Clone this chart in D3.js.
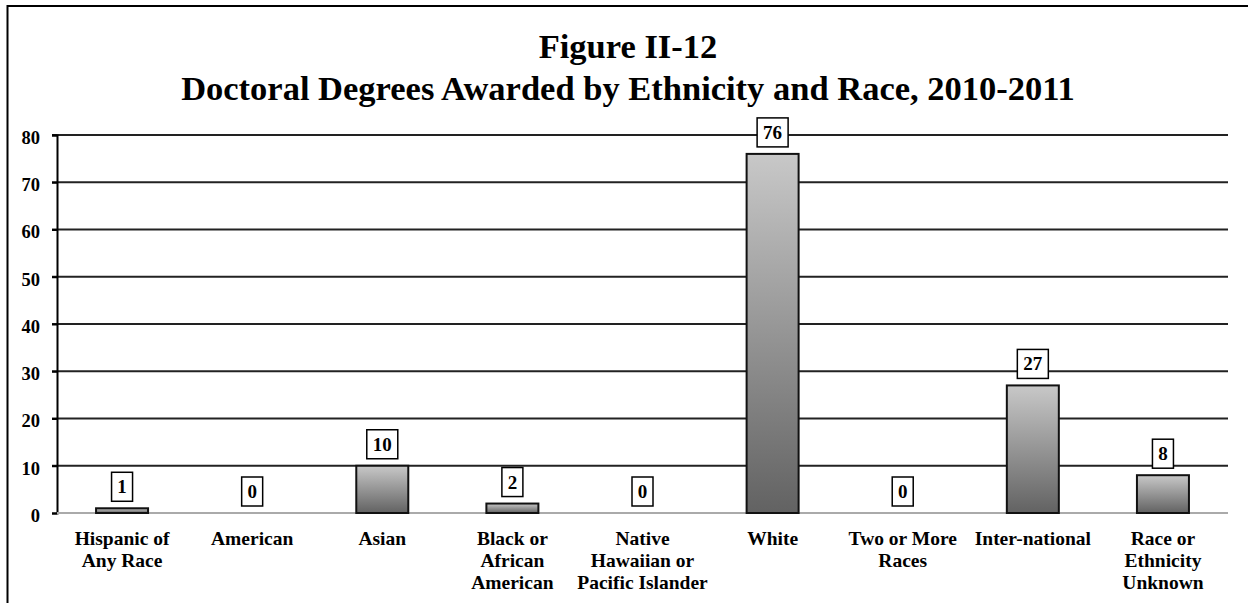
<!DOCTYPE html>
<html>
<head>
<meta charset="utf-8">
<script src="https://cdn.jsdelivr.net/npm/d3@7"></script>
<style>
  html, body { margin: 0; padding: 0; background: #fff; }
  svg { display: block; }
</style>
</head>
<body>
<svg id="chart" width="1248" height="603"></svg>
<script>
const categories = [
  ["Hispanic of", "Any Race"],
  ["American"],
  ["Asian"],
  ["Black or", "African", "American"],
  ["Native", "Hawaiian or", "Pacific Islander"],
  ["White"],
  ["Two or More", "Races"],
  ["Inter-national"],
  ["Race or", "Ethnicity", "Unknown"]
];
const values = [1, 0, 10, 2, 0, 76, 0, 27, 8];
const yTicks = [0, 10, 20, 30, 40, 50, 60, 70, 80];
const titleLines = ["Figure II-12", "Doctoral Degrees Awarded by Ethnicity and Race, 2010-2011"];

const FONT = "Liberation Serif";
const svg = d3.select("#chart");
const plotLeft = 57, plotRight = 1228, plotTop = 135, plotBottom = 513;

// outer frame
svg.append("rect").attr("x", 7.5).attr("y", 6).attr("width", 1300).attr("height", 700)
  .attr("fill", "none").attr("stroke", "#000").attr("stroke-width", 2);

// gradient
const defs = svg.append("defs");
const grad = defs.append("linearGradient").attr("id", "barGrad")
  .attr("x1", 0).attr("y1", 0).attr("x2", 0).attr("y2", 1);
grad.append("stop").attr("offset", "0%").attr("stop-color", "#c8c8c8");
grad.append("stop").attr("offset", "100%").attr("stop-color", "#626262");

// title
svg.append("g").selectAll("text").data(titleLines).join("text")
  .attr("x", 628).attr("y", (d, i) => 58 + i * 42)
  .attr("text-anchor", "middle")
  .style("font-family", FONT).style("font-weight", "bold").style("font-size", "34.5px").style("fill", "#000")
  .text(d => d);

const x = d3.scaleBand().domain(d3.range(categories.length)).range([plotLeft, plotRight]).paddingInner(0).paddingOuter(0);
const y = d3.scaleLinear().domain([0, 80]).range([plotBottom, plotTop]);

// gridlines
svg.append("g").selectAll("line").data(yTicks.filter(t => t > 0)).join("line")
  .attr("x1", plotLeft - 5).attr("x2", plotRight)
  .attr("y1", d => y(d)).attr("y2", d => y(d))
  .attr("stroke", "#222").attr("stroke-width", 2);

// y axis
const yAxis = d3.axisLeft(y).tickValues(yTicks).tickSize(5).tickPadding(12);
const yg = svg.append("g").attr("transform", `translate(${plotLeft},0)`).call(yAxis);
yg.select(".domain").attr("stroke", "#000").attr("stroke-width", 2);
yg.selectAll(".tick line").attr("stroke", "#000").attr("stroke-width", 2);
yg.selectAll(".tick text").attr("dy", "0.45em")
  .style("font-family", FONT).style("font-weight", "bold").style("font-size", "18.5px").style("fill", "#000");

// x baseline
svg.append("line").attr("x1", plotLeft).attr("x2", plotRight).attr("y1", y(0)).attr("y2", y(0))
  .attr("stroke", "#aaa").attr("stroke-width", 2);

// bars
const bw = 52;
svg.append("g").selectAll("rect").data(values).join("rect")
  .attr("x", (d, i) => x(i) + x.bandwidth() / 2 - bw / 2)
  .attr("y", d => y(d))
  .attr("width", bw)
  .attr("height", d => y(0) - y(d))
  .attr("fill", "url(#barGrad)")
  .attr("stroke", d => d > 0 ? "#111" : "none")
  .attr("stroke-width", 2);

// value labels with boxes
const lg = svg.append("g").selectAll("g").data(values).join("g")
  .attr("transform", (d, i) => `translate(${x(i) + x.bandwidth() / 2},${y(d) - 7})`);
lg.append("rect")
  .attr("x", d => d >= 10 ? -15.5 : -10.5)
  .attr("y", -29)
  .attr("width", d => d >= 10 ? 31 : 21)
  .attr("height", 29)
  .attr("fill", "#fff").attr("stroke", "#000").attr("stroke-width", 1.5);
lg.append("text").attr("text-anchor", "middle").attr("y", -8)
  .style("font-family", FONT).style("font-weight", "bold").style("font-size", "19px").style("fill", "#000")
  .text(d => d);

// category labels
const cg = svg.append("g").selectAll("text").data(categories).join("text")
  .attr("text-anchor", "middle")
  .style("font-family", FONT).style("font-weight", "bold").style("font-size", "19.5px").style("fill", "#000")
  .attr("transform", (d, i) => `translate(${x(i) + x.bandwidth() / 2},0)`);
cg.selectAll("tspan").data(d => d).join("tspan")
  .attr("x", 0).attr("y", (d, i) => 545 + i * 22).text(d => d);
</script>
</body>
</html>
